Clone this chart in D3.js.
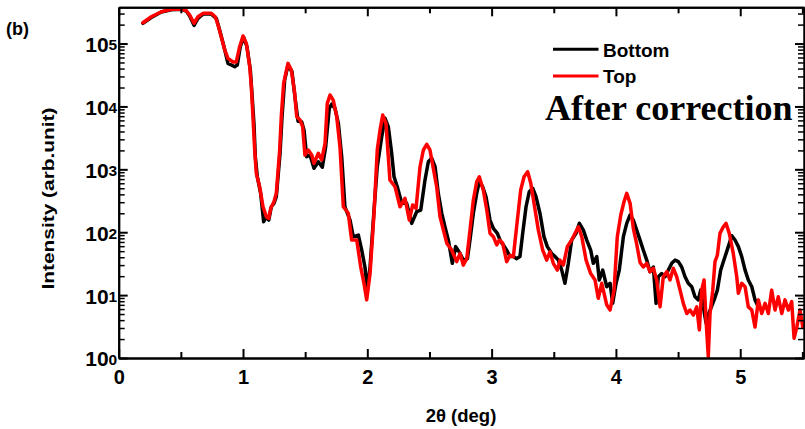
<!DOCTYPE html>
<html>
<head>
<meta charset="utf-8">
<script src="https://cdn.jsdelivr.net/npm/d3@7"></script>
<style>
  body { margin: 0; background: #fff; }
  text { font-family: Arial, "Liberation Sans", sans-serif; font-weight: bold; fill: #000; }
</style>
</head>
<body>
<svg id="chart" width="805" height="429"></svg>
<script>
// 2θ scans of the two surfaces (deg, arb. units)
const bottomAngle = [
  0.195, 0.262, 0.343, 0.423, 0.504, 0.544, 0.571, 0.606, 0.638, 0.678, 0.745, 0.785, 0.812, 0.847, 0.879, 0.906,
  0.933, 0.954, 0.978, 1.005, 1.032, 1.059, 1.072, 1.088, 1.099, 1.115, 1.142, 1.166, 1.188, 1.207, 1.228, 1.249,
  1.268, 1.298, 1.314, 1.335, 1.362, 1.394, 1.421, 1.443, 1.472, 1.491, 1.512, 1.539, 1.571, 1.606, 1.638, 1.665,
  1.694, 1.714, 1.740, 1.767, 1.794, 1.820, 1.861, 1.887, 1.928, 1.955, 1.981, 2.000, 2.022, 2.054, 2.080, 2.116,
  2.142, 2.169, 2.196, 2.215, 2.241, 2.277, 2.317, 2.357, 2.397, 2.430, 2.464, 2.491, 2.518, 2.545, 2.571, 2.599,
  2.625, 2.652, 2.684, 2.711, 2.746, 2.772, 2.805, 2.826, 2.853, 2.880, 2.901, 2.928, 2.955, 2.987, 3.014, 3.046,
  3.073, 3.094, 3.121, 3.148, 3.175, 3.202, 3.228, 3.250, 3.277, 3.303, 3.331, 3.357, 3.389, 3.421, 3.448, 3.483,
  3.510, 3.537, 3.564, 3.590, 3.617, 3.644, 3.679, 3.706, 3.738, 3.765, 3.797, 3.818, 3.846, 3.866, 3.894, 3.926,
  3.953, 3.974, 4.001, 4.027, 4.060, 4.087, 4.114, 4.140, 4.167, 4.194, 4.220, 4.248, 4.274, 4.301, 4.323, 4.341,
  4.368, 4.395, 4.422, 4.449, 4.475, 4.502, 4.529, 4.556, 4.582, 4.610, 4.636, 4.663, 4.682, 4.703, 4.725, 4.747,
  4.768, 4.790, 4.816, 4.843, 4.878, 4.904, 4.932, 4.958, 4.985, 5.012, 5.039, 5.065, 5.093, 5.119, 5.146
];
const bottomIntensity = [
  2.1e5, 2.6e5, 3.17e5, 3.45e5, 3.5e5, 3.29e5, 2.74e5, 1.95e5, 2.52e5, 2.94e5, 2.94e5, 2.52e5, 1.64e5, 8.9e4, 4.84e4, 4.55e4,
  4.28e4, 4.55e4, 8.9e4, 1.26e5, 8.9e4, 3.8e4, 1.6e4, 5400, 1590, 763, 415, 147, 176, 156, 254, 288,
  367, 1800, 6900, 26300, 45500, 35600, 12600, 5800, 5700, 4200, 1590, 1690, 1040, 1320, 1080, 2290,
  9300, 10900, 9300, 5400, 1590, 254, 156, 85, 90, 52, 28, 12, 28, 225, 1100, 3300,
  6500, 4750, 1800, 763, 528, 288, 288, 138, 212, 225, 676, 1320, 1500, 1100, 415, 200,
  122, 75, 32, 59, 46, 36, 38, 75, 200, 415, 635, 528, 367, 156, 115, 96,
  71, 63, 52, 41, 41, 38, 41, 96, 254, 441, 499, 367, 200, 85, 59, 46,
  41, 36, 25, 15.4, 32, 75, 96, 138, 108, 75, 52, 32, 41, 17.4, 25, 13.6,
  15.4, 7.4, 15.4, 25, 85, 138, 188, 156, 108, 75, 52, 36, 23.6, 28, 7.4, 19.6,
  22, 19.6, 25, 32, 36, 34, 28, 19.6, 15.4, 13.6, 9.4, 8.4, 12, 6.5, 3.6, 5.1,
  6.5, 8.4, 12, 25, 41, 59, 88, 75, 59, 41, 25, 17.4, 13.6, 8.4, 6.5
];
const topAngle = [
  0.195, 0.262, 0.343, 0.423, 0.504, 0.544, 0.571, 0.606, 0.638, 0.678, 0.745, 0.777, 0.799, 0.825, 0.853, 0.879,
  0.920, 0.946, 0.973, 1.000, 1.027, 1.054, 1.067, 1.080, 1.094, 1.107, 1.134, 1.161, 1.188, 1.207, 1.223, 1.249,
  1.268, 1.295, 1.308, 1.327, 1.362, 1.389, 1.416, 1.432, 1.459, 1.480, 1.498, 1.525, 1.553, 1.571, 1.606, 1.633,
  1.660, 1.678, 1.700, 1.726, 1.754, 1.780, 1.807, 1.847, 1.874, 1.915, 1.947, 1.973, 1.995, 2.022, 2.054, 2.080,
  2.102, 2.124, 2.150, 2.182, 2.223, 2.263, 2.303, 2.338, 2.365, 2.392, 2.424, 2.451, 2.478, 2.504, 2.558, 2.585,
  2.639, 2.679, 2.719, 2.746, 2.772, 2.800, 2.826, 2.853, 2.880, 2.901, 2.933, 2.961, 2.987, 3.014, 3.041, 3.062,
  3.089, 3.121, 3.148, 3.175, 3.207, 3.234, 3.261, 3.290, 3.315, 3.341, 3.376, 3.411, 3.443, 3.470, 3.496, 3.529,
  3.550, 3.577, 3.609, 3.644, 3.671, 3.698, 3.725, 3.760, 3.797, 3.832, 3.858, 3.886, 3.926, 3.953, 3.985, 4.011,
  4.039, 4.065, 4.087, 4.114, 4.140, 4.167, 4.194, 4.220, 4.248, 4.274, 4.301, 4.328, 4.355, 4.381, 4.409, 4.435,
  4.462, 4.489, 4.516, 4.542, 4.570, 4.596, 4.623, 4.650, 4.671, 4.690, 4.709, 4.725, 4.743, 4.757, 4.779, 4.797,
  4.816, 4.837, 4.864, 4.886, 4.912, 4.944, 4.972, 4.985, 5.012, 5.039, 5.065, 5.093, 5.119, 5.146, 5.173, 5.200,
  5.226, 5.253, 5.280, 5.306, 5.334, 5.360, 5.387, 5.414, 5.433, 5.455, 5.481, 5.503
];
const topIntensity = [
  2.14e5, 2.67e5, 3.2e5, 3.5e5, 3.54e5, 3.32e5, 2.84e5, 2.1e5, 2.67e5, 3.02e5, 3.02e5, 2.67e5, 1.97e5, 1.28e5, 7.9e4, 5.8e4,
  5.1e4, 5.1e4, 8.9e4, 1.32e5, 1.0e5, 4.3e4, 2.06e4, 6900, 2030, 863, 528, 254, 176, 166, 240, 305,
  415, 2030, 6900, 23300, 48400, 38000, 16000, 6860, 6100, 4750, 1690, 2030, 1690, 1250, 1800, 1410,
  2590, 11200, 15200, 12600, 6860, 2290, 254, 200, 75, 75, 28, 15.4, 8.4, 22, 200, 2030,
  4200, 7300, 5400, 676, 528, 254, 346, 156, 271, 240, 1100, 2030, 2500, 2030, 528, 176,
  67, 52, 34, 46, 30, 38, 108, 325, 635, 763, 469, 225, 96, 85, 63, 75,
  67, 34, 43, 41, 156, 469, 763, 916, 599, 288, 108, 52, 36, 49, 32, 25,
  36, 30, 59, 75, 96, 122, 85, 36, 22, 17.4, 8.9, 15.4, 7.0, 5.8, 12, 85,
  188, 305, 415, 288, 115, 65, 33, 28, 32, 23.6, 26.7, 17.4, 6.5, 19.6, 23.6, 17.4,
  26.7, 19.6, 12, 7.4, 5.1, 5.8, 4.8, 6.5, 2.8, 12, 17.4, 4.0, 1.05, 5.1, 12, 34,
  43, 96, 122, 138, 96, 46, 19.6, 10.7, 15.4, 13.6, 6.5, 5.8, 3.1, 8.4, 5.1, 7.4,
  5.1, 12, 5.8, 9.4, 5.1, 8.4, 5.8, 7.9, 2.06, 3.1, 5.8, 3.1
];

const seriesNames = ["Bottom", "Top"];
const seriesColors = ["#000000", "#ff0000"];
const xTickValues = [0, 1, 2, 3, 4, 5];
const xMinorValues = [0.5, 1.5, 2.5, 3.5, 4.5, 5.5];
const yExponents = [0, 1, 2, 3, 4, 5];
const xDomain = [0, 5.513];
const yDomain = [1, 3.77e5];

const W = 805, H = 429;
const margin = { left: 118.7, top: 7.3, right: 1, bottom: 71 };
const iw = W - margin.left - margin.right;
const ih = H - margin.top - margin.bottom;

const svg = d3.select("#chart");
const g = svg.append("g").attr("transform", `translate(${margin.left},${margin.top})`);

const x = d3.scaleLinear().domain(xDomain).range([0, iw]);
const y = d3.scaleLog().domain(yDomain).range([ih, 0]);

// data lines, Top drawn over Bottom
const line = d3.line().x(d => x(d[0])).y(d => y(d[1]));
const series = [
  d3.zip(bottomAngle, bottomIntensity),
  d3.zip(topAngle, topIntensity)
];
const plot = g.append("g");
series.forEach((pts, i) => {
  plot.append("path")
    .datum(pts)
    .attr("d", line)
    .attr("fill", "none")
    .attr("stroke", seriesColors[i])
    .attr("stroke-width", 3.5)
    .attr("stroke-linejoin", "round")
    .attr("stroke-linecap", "round");
});

// minor log ticks (2..9 per decade)
const yMinor = [];
yExponents.forEach(e => {
  for (let m = 2; m <= 9; m++) {
    const v = m * Math.pow(10, e);
    if (v <= yDomain[1]) yMinor.push(v);
  }
});
const yMajor = yExponents.map(e => Math.pow(10, e));

function styleAxis(sel, w) {
  sel.selectAll("path.domain").attr("stroke", "#000").attr("stroke-width", 2);
  sel.selectAll(".tick line").attr("stroke", "#000").attr("stroke-width", w);
}

// bottom axis with labels
const xAxisB = g.append("g").attr("transform", `translate(0,${ih})`)
  .call(d3.axisBottom(x).tickValues(xTickValues).tickSize(-9).tickSizeOuter(0).tickPadding(12).tickFormat(d3.format("d")));
styleAxis(xAxisB, 2);
xAxisB.selectAll("text").style("font-size", "20px").attr("fill", "#000");
const xMinB = g.append("g").attr("transform", `translate(0,${ih})`)
  .call(d3.axisBottom(x).tickValues(xMinorValues.filter(v => v <= xDomain[1])).tickSize(-6).tickSizeOuter(0).tickFormat(""));
styleAxis(xMinB, 2);

// top axis
const xAxisT = g.append("g")
  .call(d3.axisTop(x).tickValues(xTickValues).tickSize(-9).tickSizeOuter(0).tickFormat(""));
styleAxis(xAxisT, 2);
const xMinT = g.append("g")
  .call(d3.axisTop(x).tickValues(xMinorValues.filter(v => v <= xDomain[1])).tickSize(-6).tickSizeOuter(0).tickFormat(""));
styleAxis(xMinT, 2);

// left axis
const yAxisL = g.append("g")
  .call(d3.axisLeft(y).tickValues(yMajor).tickSize(-9).tickSizeOuter(0).tickFormat(""));
styleAxis(yAxisL, 2);
const yMinL = g.append("g")
  .call(d3.axisLeft(y).tickValues(yMinor).tickSize(-6).tickSizeOuter(0).tickFormat(""));
styleAxis(yMinL, 1.5);

// right axis
const yAxisR = g.append("g").attr("transform", `translate(${iw},0)`)
  .call(d3.axisRight(y).tickValues(yMajor).tickSize(-9).tickSizeOuter(0).tickFormat(""));
styleAxis(yAxisR, 2);
const yMinR = g.append("g").attr("transform", `translate(${iw},0)`)
  .call(d3.axisRight(y).tickValues(yMinor).tickSize(-6).tickSizeOuter(0).tickFormat(""));
styleAxis(yMinR, 1.5);

// power-of-ten labels
const yLab = g.append("g");
yExponents.forEach(e => {
  const t = yLab.append("text")
    .attr("x", -1.5)
    .attr("y", y(Math.pow(10, e)) + 8.4)
    .attr("text-anchor", "end")
    .style("font-size", "21px");
  t.append("tspan").text("10");
  t.append("tspan").attr("dy", -1.7).style("font-size", "15.5px").text(String(e));
});

// axis titles
svg.append("text")
  .attr("x", 461).attr("y", 422)
  .attr("text-anchor", "middle")
  .style("font-size", "18.5px")
  .text("2θ (deg)");

svg.append("text")
  .attr("transform", "translate(53.5,198.5) rotate(-90)")
  .attr("text-anchor", "middle")
  .attr("textLength", 182)
  .attr("lengthAdjust", "spacingAndGlyphs")
  .style("font-size", "17px")
  .text("Intensity (arb.unit)");

// panel label
svg.append("text")
  .attr("x", 6).attr("y", 35)
  .style("font-size", "18px")
  .text("(b)");

// legend
const legend = svg.append("g");
seriesNames.forEach((name, i) => {
  const ly = 49.3 + i * 26.7;
  legend.append("line")
    .attr("x1", 553).attr("x2", 598.5)
    .attr("y1", ly).attr("y2", ly)
    .attr("stroke", seriesColors[i]).attr("stroke-width", 3);
  legend.append("text")
    .attr("x", 603).attr("y", ly + 7.2)
    .style("font-size", "19px")
    .text(name);
});

svg.append("text")
  .attr("x", 545).attr("y", 120)
  .style("font-family", "'Times New Roman', 'Liberation Serif', serif")
  .style("font-size", "36px")
  .text("After correction");
</script>
</body>
</html>
